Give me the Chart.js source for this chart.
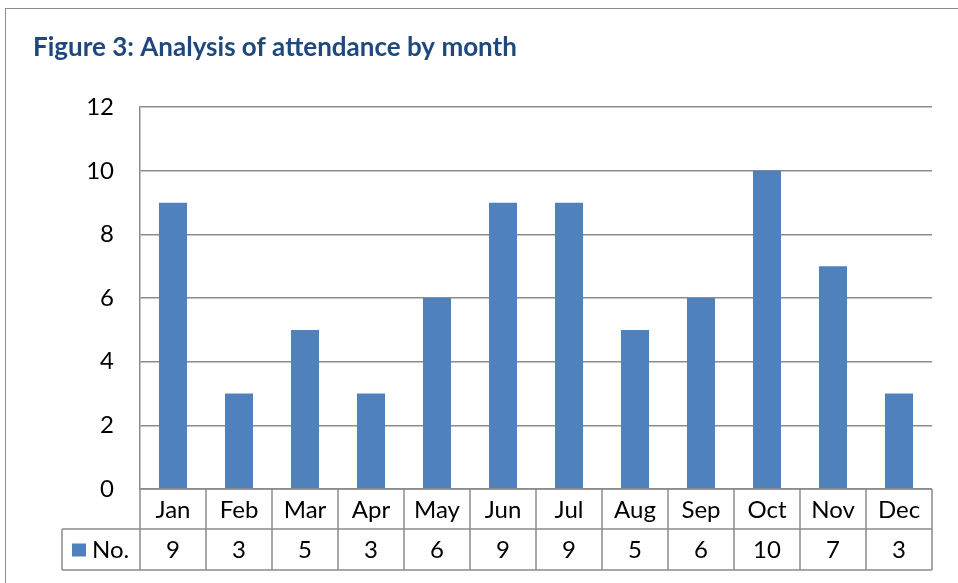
<!DOCTYPE html>
<html>
<head>
<meta charset="utf-8">
<script src="https://cdn.jsdelivr.net/npm/chart.js@4.4.1/dist/chart.umd.min.js"></script>
<style>
  body { margin: 0; background: #fff; overflow: hidden; }
  #frame { position: absolute; left: 5px; top: 8px; width: 1100px; height: 700px; border: 1.5px solid #8c8c8c; }
  #chart { position: absolute; left: 0; top: 0; }
</style>
</head>
<body>
<div id="frame"></div>
<canvas id="chart" width="958" height="583"></canvas>
<script>
const months = ["Jan", "Feb", "Mar", "Apr", "May", "Jun", "Jul", "Aug", "Sep", "Oct", "Nov", "Dec"];
const attendance = [9, 3, 5, 3, 6, 9, 9, 5, 6, 10, 7, 3];
const seriesName = "No.";
const yTicks = [0, 2, 4, 6, 8, 10, 12];

const barColor = "#4f81bd";
const lineColor = "#8c8c8c";
const font = "Lato, 'Open Sans', sans-serif";

// data table under the plot, like Excel's "show data table"
const dataTable = {
  id: "dataTable",
  afterDraw(chart) {
    const ctx = chart.ctx;
    const area = chart.chartArea;
    const x = chart.scales.x;
    const half = (x.getPixelForValue(1) - x.getPixelForValue(0)) / 2;
    const r0 = area.bottom, r1 = r0 + 40, r2 = r1 + 41;
    const legendLeft = area.left - 78;

    ctx.save();
    ctx.strokeStyle = lineColor;
    ctx.lineWidth = 1.5;
    ctx.beginPath();
    ctx.moveTo(area.left, r0); ctx.lineTo(area.right, r0);
    ctx.moveTo(legendLeft, r1); ctx.lineTo(area.right, r1);
    ctx.moveTo(legendLeft, r2); ctx.lineTo(area.right, r2);
    ctx.moveTo(legendLeft, r1); ctx.lineTo(legendLeft, r2);
    ctx.moveTo(area.left, r0); ctx.lineTo(area.left, r2);
    months.forEach((m, i) => {
      const bx = x.getPixelForValue(i) + half;
      ctx.moveTo(bx, r0); ctx.lineTo(bx, r2);
    });
    ctx.stroke();

    ctx.fillStyle = "#000";
    ctx.font = "24px " + font;
    ctx.textAlign = "center";
    ctx.textBaseline = "middle";
    months.forEach((m, i) => {
      const cx = x.getPixelForValue(i);
      ctx.fillText(m, cx, (r0 + r1) / 2 + 1);
      ctx.fillText(String(attendance[i]), cx, (r1 + r2) / 2 + 1);
    });

    ctx.fillStyle = barColor;
    ctx.fillRect(legendLeft + 10, (r1 + r2) / 2 - 6, 14, 13);
    ctx.fillStyle = "#000";
    ctx.textAlign = "left";
    ctx.fillText(seriesName, legendLeft + 30, (r1 + r2) / 2 + 1);
    ctx.restore();
  }
};

new Chart(document.getElementById("chart"), {
  type: "bar",
  data: {
    labels: months,
    datasets: [{
      label: seriesName,
      data: attendance,
      backgroundColor: barColor,
      barPercentage: 0.85,
      categoryPercentage: 0.5
    }]
  },
  options: {
    responsive: false,
    animation: false,
    layout: { padding: { left: 33, right: 26, top: 0, bottom: 94 } },
    plugins: {
      legend: { display: false },
      tooltip: { enabled: false },
      title: {
        display: true,
        text: "Figure 3: Analysis of attendance by month",
        align: "start",
        color: "#1f497d",
        font: { family: font, size: 26, weight: "bold" },
        padding: { top: 32, bottom: 44 }
      }
    },
    scales: {
      x: {
        display: false
      },
      y: {
        min: 0,
        max: 12,
        afterFit(scale) { scale.width = 107; },
        afterBuildTicks(scale) { scale.ticks = yTicks.map(v => ({ value: v })); },
        ticks: {
          color: "#000",
          padding: 26,
          font: { family: font, size: 24 }
        },
        grid: { color: lineColor, lineWidth: 1.5, drawTicks: false },
        border: { display: true, color: lineColor, width: 1.5 }
      }
    }
  },
  plugins: [dataTable]
});
</script>
</body>
</html>
